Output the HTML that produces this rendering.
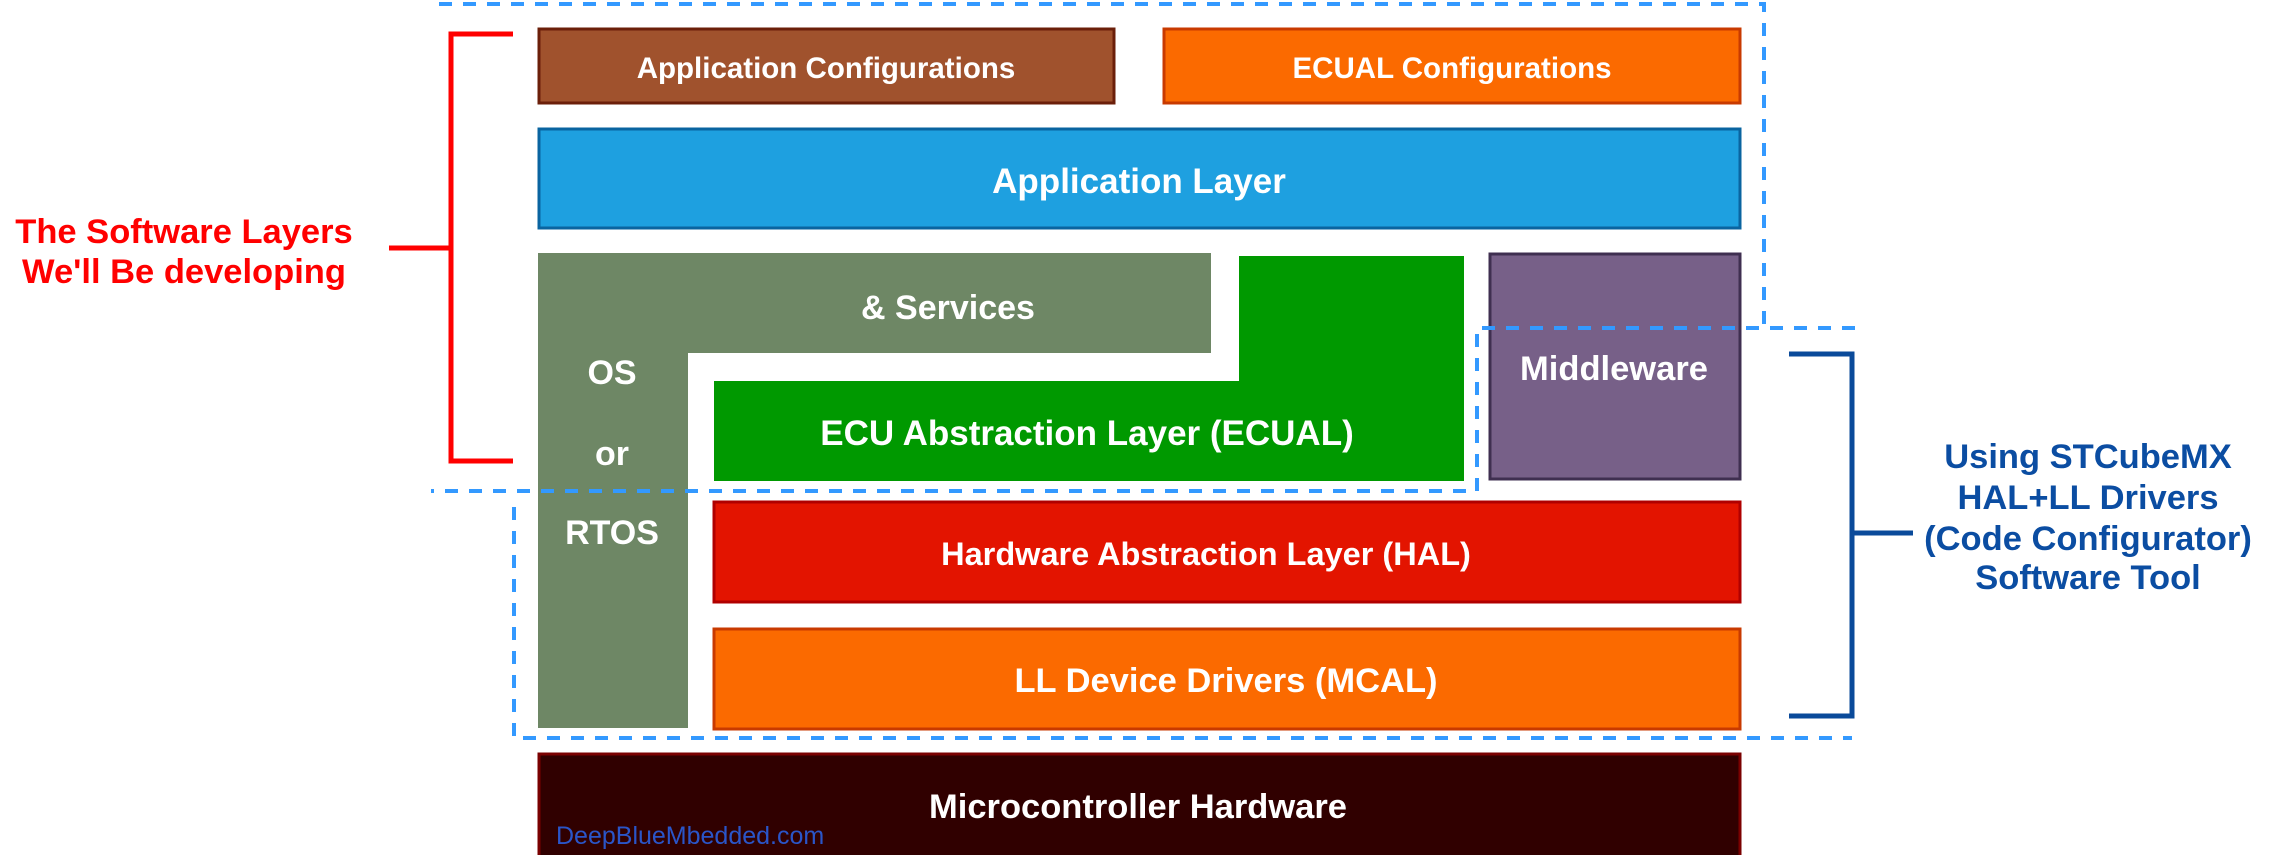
<!DOCTYPE html>
<html><head><meta charset="utf-8"><style>
html,body{margin:0;padding:0;background:#fff;}
svg{display:block;}
text{font-family:"Liberation Sans",Arial,sans-serif;font-weight:bold;}
</style></head><body>
<svg width="2278" height="855" viewBox="0 0 2278 855" xmlns="http://www.w3.org/2000/svg">
<rect x="539" y="29" width="575" height="74" fill="#a0522d" stroke="#6b1f0a" stroke-width="3"/>
<text x="826" y="78" font-size="29.5" fill="#fff" text-anchor="middle">Application Configurations</text>
<rect x="1164" y="29" width="576" height="74" fill="#fb6a00" stroke="#c83a00" stroke-width="3"/>
<text x="1452" y="78" font-size="29.5" fill="#fff" text-anchor="middle">ECUAL Configurations</text>
<rect x="539" y="129" width="1201" height="99" fill="#1ea0e0" stroke="#0a64a0" stroke-width="3"/>
<text x="1139" y="193" font-size="35" fill="#fff" text-anchor="middle">Application Layer</text>
<path d="M538 253 H1211 V353 H688 V728 H538 Z" fill="#6e8765"/>
<text x="948" y="319" font-size="34" fill="#fff" text-anchor="middle">&amp; Services</text>
<text x="612" y="384" font-size="34" fill="#fff" text-anchor="middle">OS</text>
<text x="612" y="465" font-size="34" fill="#fff" text-anchor="middle">or</text>
<text x="612" y="544" font-size="34" fill="#fff" text-anchor="middle">RTOS</text>
<path d="M1239 256 H1464 V481 H714 V381 H1239 Z" fill="#009900"/>
<text x="1087" y="445" font-size="35" fill="#fff" text-anchor="middle">ECU Abstraction Layer (ECUAL)</text>
<rect x="1490" y="254" width="250" height="225" fill="#776088" stroke="#3f2f50" stroke-width="3"/>
<text x="1614" y="380" font-size="34.5" fill="#fff" text-anchor="middle">Middleware</text>
<rect x="714" y="502" width="1026" height="100" fill="#e31400" stroke="#b00000" stroke-width="3"/>
<text x="1206" y="565" font-size="32.5" fill="#fff" text-anchor="middle">Hardware Abstraction Layer (HAL)</text>
<rect x="714" y="629" width="1026" height="100" fill="#fb6a00" stroke="#c83a00" stroke-width="3"/>
<text x="1226" y="692" font-size="34.5" fill="#fff" text-anchor="middle">LL Device Drivers (MCAL)</text>
<rect x="539" y="754" width="1201" height="104" fill="#300000" stroke="#7a0000" stroke-width="3"/>
<text x="1138" y="818" font-size="34.5" fill="#fff" text-anchor="middle">Microcontroller Hardware</text>
<text x="556" y="844" font-size="25" fill="#2a55c8" style="font-weight:normal">DeepBlueMbedded.com</text>
<g fill="none" stroke="#3399ff" stroke-width="4" stroke-dasharray="13 11">
<path d="M439 4 H1764 V328"/>
<path d="M1855 328 H1477 V491 H431"/>
<path d="M514 507 V738 H1852"/>
</g>
<g fill="none" stroke="#ff0000" stroke-width="5">
<path d="M513 34 H451 V461 H513"/>
<path d="M389 248 H451"/>
</g>
<text x="184" y="243" font-size="34.5" fill="#ff0000" text-anchor="middle">The Software Layers</text>
<text x="184" y="283" font-size="34.5" fill="#ff0000" text-anchor="middle">We'll Be developing</text>
<g fill="none" stroke="#0a4a9a" stroke-width="5">
<path d="M1789 354 H1852 V716 H1789"/>
<path d="M1852 533 H1913"/>
</g>
<g font-size="34.5" fill="#0b4da2" text-anchor="middle">
<text x="2088" y="468">Using STCubeMX</text>
<text x="2088" y="509">HAL+LL Drivers</text>
<text x="2088" y="550">(Code Configurator)</text>
<text x="2088" y="589">Software Tool</text>
</g>
</svg>
</body></html>
